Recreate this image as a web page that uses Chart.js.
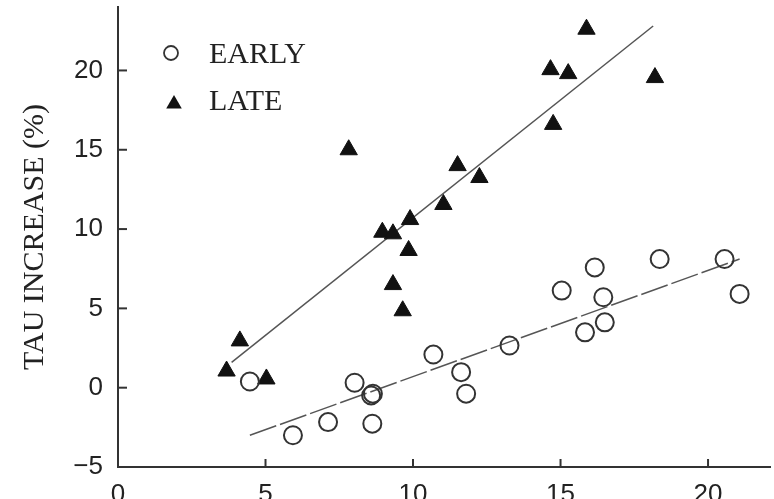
<!DOCTYPE html>
<html lang="en">
<head>
    <meta charset="UTF-8">
    <title>Tau increase</title>
    <script src="https://cdn.jsdelivr.net/npm/chart.js"></script>
    <style>
        html, body {
            margin: 0;
            padding: 0;
            background: #fff;
            overflow: hidden;
        }
        body {
            position: relative;
            width: 774px;
            height: 499px;
        }
        canvas {
            display: block;
            position: absolute;
            left: 0;
            top: -4px;
        }
    </style>
</head>
<body>
    <canvas id="tauChart" width="781" height="534"></canvas>

    <script>
        // valores
        const earlyX = [4.47, 5.93, 7.12, 8.02, 8.58, 8.64, 8.62, 10.69, 11.63, 11.80, 13.27, 15.04, 16.16, 16.45, 16.50, 15.83, 18.36, 20.56, 21.07];
        const earlyY = [0.39, -3.0, -2.17, 0.31, -0.49, -0.38, -2.27, 2.09, 0.98, -0.38, 2.66, 6.12, 7.58, 5.70, 4.12, 3.49, 8.11, 8.11, 5.91];
        const lateX = [3.68, 4.13, 5.03, 7.82, 8.96, 9.32, 9.85, 9.90, 9.32, 9.65, 11.03, 11.51, 12.25, 14.66, 15.26, 14.75, 15.88, 18.20];
        const lateY = [1.05, 2.95, 0.55, 15.0, 9.8, 9.7, 8.65, 10.6, 6.5, 4.85, 11.55, 14.0, 13.25, 20.05, 19.8, 16.6, 22.6, 19.55];

        // retas de regressao (extremos)
        const earlyFitX = [4.47, 21.07];
        const earlyFitY = [-3.0, 8.11];
        const lateFitX = [3.85, 18.14];
        const lateFitY = [1.6, 22.8];

        const xTicks = [0, 5, 10, 15, 20];
        const yTicks = [-5, 0, 5, 10, 15, 20];
        const seriesNames = ['EARLY', 'LATE'];

        const toPoints = (xs, ys) => xs.map((x, i) => ({x: x, y: ys[i]}));

        // ticks para dentro da area do grafico
        const innerTicks = {
            id: 'innerTicks',
            afterDraw(chart) {
                const ctx = chart.ctx;
                const xs = chart.scales.x, ys = chart.scales.y;
                const area = chart.chartArea;
                ctx.save();
                ctx.strokeStyle = '#333';
                ctx.lineWidth = 2;
                xTicks.forEach(v => {
                    const px = xs.getPixelForValue(v);
                    ctx.beginPath();
                    ctx.moveTo(px, area.bottom);
                    ctx.lineTo(px, area.bottom - 8);
                    ctx.stroke();
                });
                yTicks.forEach(v => {
                    const py = ys.getPixelForValue(v);
                    ctx.beginPath();
                    ctx.moveTo(area.left, py);
                    ctx.lineTo(area.left + 9, py);
                    ctx.stroke();
                });
                ctx.restore();
            }
        };

        // legenda dentro do grafico, canto superior esquerdo (canvas deslocado 4px)
        const insideLegend = {
            id: 'insideLegend',
            afterDraw(chart) {
                const ctx = chart.ctx;
                const dy = 4;
                ctx.save();
                ctx.strokeStyle = '#333';
                ctx.lineWidth = 1.8;
                ctx.beginPath();
                ctx.arc(171, 53 + dy, 7, 0, Math.PI * 2);
                ctx.stroke();

                const r = 9;
                const cx = 174, cy = 104 + dy;
                ctx.fillStyle = '#111';
                ctx.beginPath();
                ctx.moveTo(cx, cy - r);
                ctx.lineTo(cx + r * Math.sqrt(3) / 2, cy + r / 2);
                ctx.lineTo(cx - r * Math.sqrt(3) / 2, cy + r / 2);
                ctx.closePath();
                ctx.fill();

                ctx.fillStyle = '#222';
                ctx.font = '30px "Liberation Serif"';
                ctx.textBaseline = 'middle';
                ctx.textAlign = 'left';
                ctx.fillText(seriesNames[0], 209, 55 + dy);
                ctx.fillText(seriesNames[1], 209, 102 + dy);
                ctx.restore();
            }
        };

        const ctx = document.getElementById('tauChart').getContext('2d');
        const tauChart = new Chart(ctx, {
            type: 'scatter',
            data: {
                datasets: [{
                    label: seriesNames[0],
                    data: toPoints(earlyX, earlyY),
                    pointStyle: 'circle',
                    pointRadius: 9,
                    pointBorderWidth: 2,
                    borderColor: '#333',
                    backgroundColor: 'rgba(0,0,0,0)'
                }, {
                    label: seriesNames[1],
                    data: toPoints(lateX, lateY),
                    pointStyle: 'triangle',
                    pointRadius: 10,
                    pointBorderWidth: 1,
                    borderColor: '#111',
                    backgroundColor: '#111'
                }, {
                    type: 'line',
                    label: 'early fit',
                    data: toPoints(earlyFitX, earlyFitY),
                    borderColor: '#555',
                    borderWidth: 1.5,
                    borderDash: [28, 4],
                    pointRadius: 0,
                    fill: false
                }, {
                    type: 'line',
                    label: 'late fit',
                    data: toPoints(lateFitX, lateFitY),
                    borderColor: '#555',
                    borderWidth: 1.5,
                    pointRadius: 0,
                    fill: false
                }]
            },
            options: {
                responsive: false,
                animation: false,
                layout: {
                    padding: {top: 2, right: 0, left: 0, bottom: 0}
                },
                plugins: {
                    legend: {display: false},
                    tooltip: {enabled: false}
                },
                scales: {
                    x: {
                        type: 'linear',
                        min: 0,
                        max: 22.1,
                        afterFit: s => {
                            s.height = 63;
                            s.paddingLeft = 0;
                            s.paddingRight = 0;
                        },
                        afterBuildTicks: s => { s.ticks = xTicks.map(v => ({value: v})); },
                        ticks: {
                            padding: 12,
                            color: '#222',
                            font: {family: '"Liberation Sans"', size: 26}
                        },
                        grid: {display: false, drawTicks: false},
                        border: {display: true, color: '#333', width: 2}
                    },
                    y: {
                        min: -5,
                        max: 24,
                        afterFit: s => {
                            s.width = 118;
                            s.paddingTop = 0;
                            s.paddingBottom = 0;
                        },
                        afterBuildTicks: s => { s.ticks = yTicks.map(v => ({value: v})); },
                        ticks: {
                            padding: 15,
                            color: '#222',
                            font: {family: '"Liberation Sans"', size: 26},
                            callback: v => v < 0 ? '\u2212' + Math.abs(v) : String(v)
                        },
                        grid: {display: false, drawTicks: false},
                        border: {display: true, color: '#333', width: 2},
                        title: {
                            display: true,
                            text: 'TAU INCREASE (%)',
                            color: '#222',
                            padding: {top: 17, bottom: 0},
                            font: {family: '"Liberation Serif"', size: 30, weight: 'normal'}
                        }
                    }
                }
            },
            plugins: [innerTicks, insideLegend]
        });
    </script>
</body>
</html>
